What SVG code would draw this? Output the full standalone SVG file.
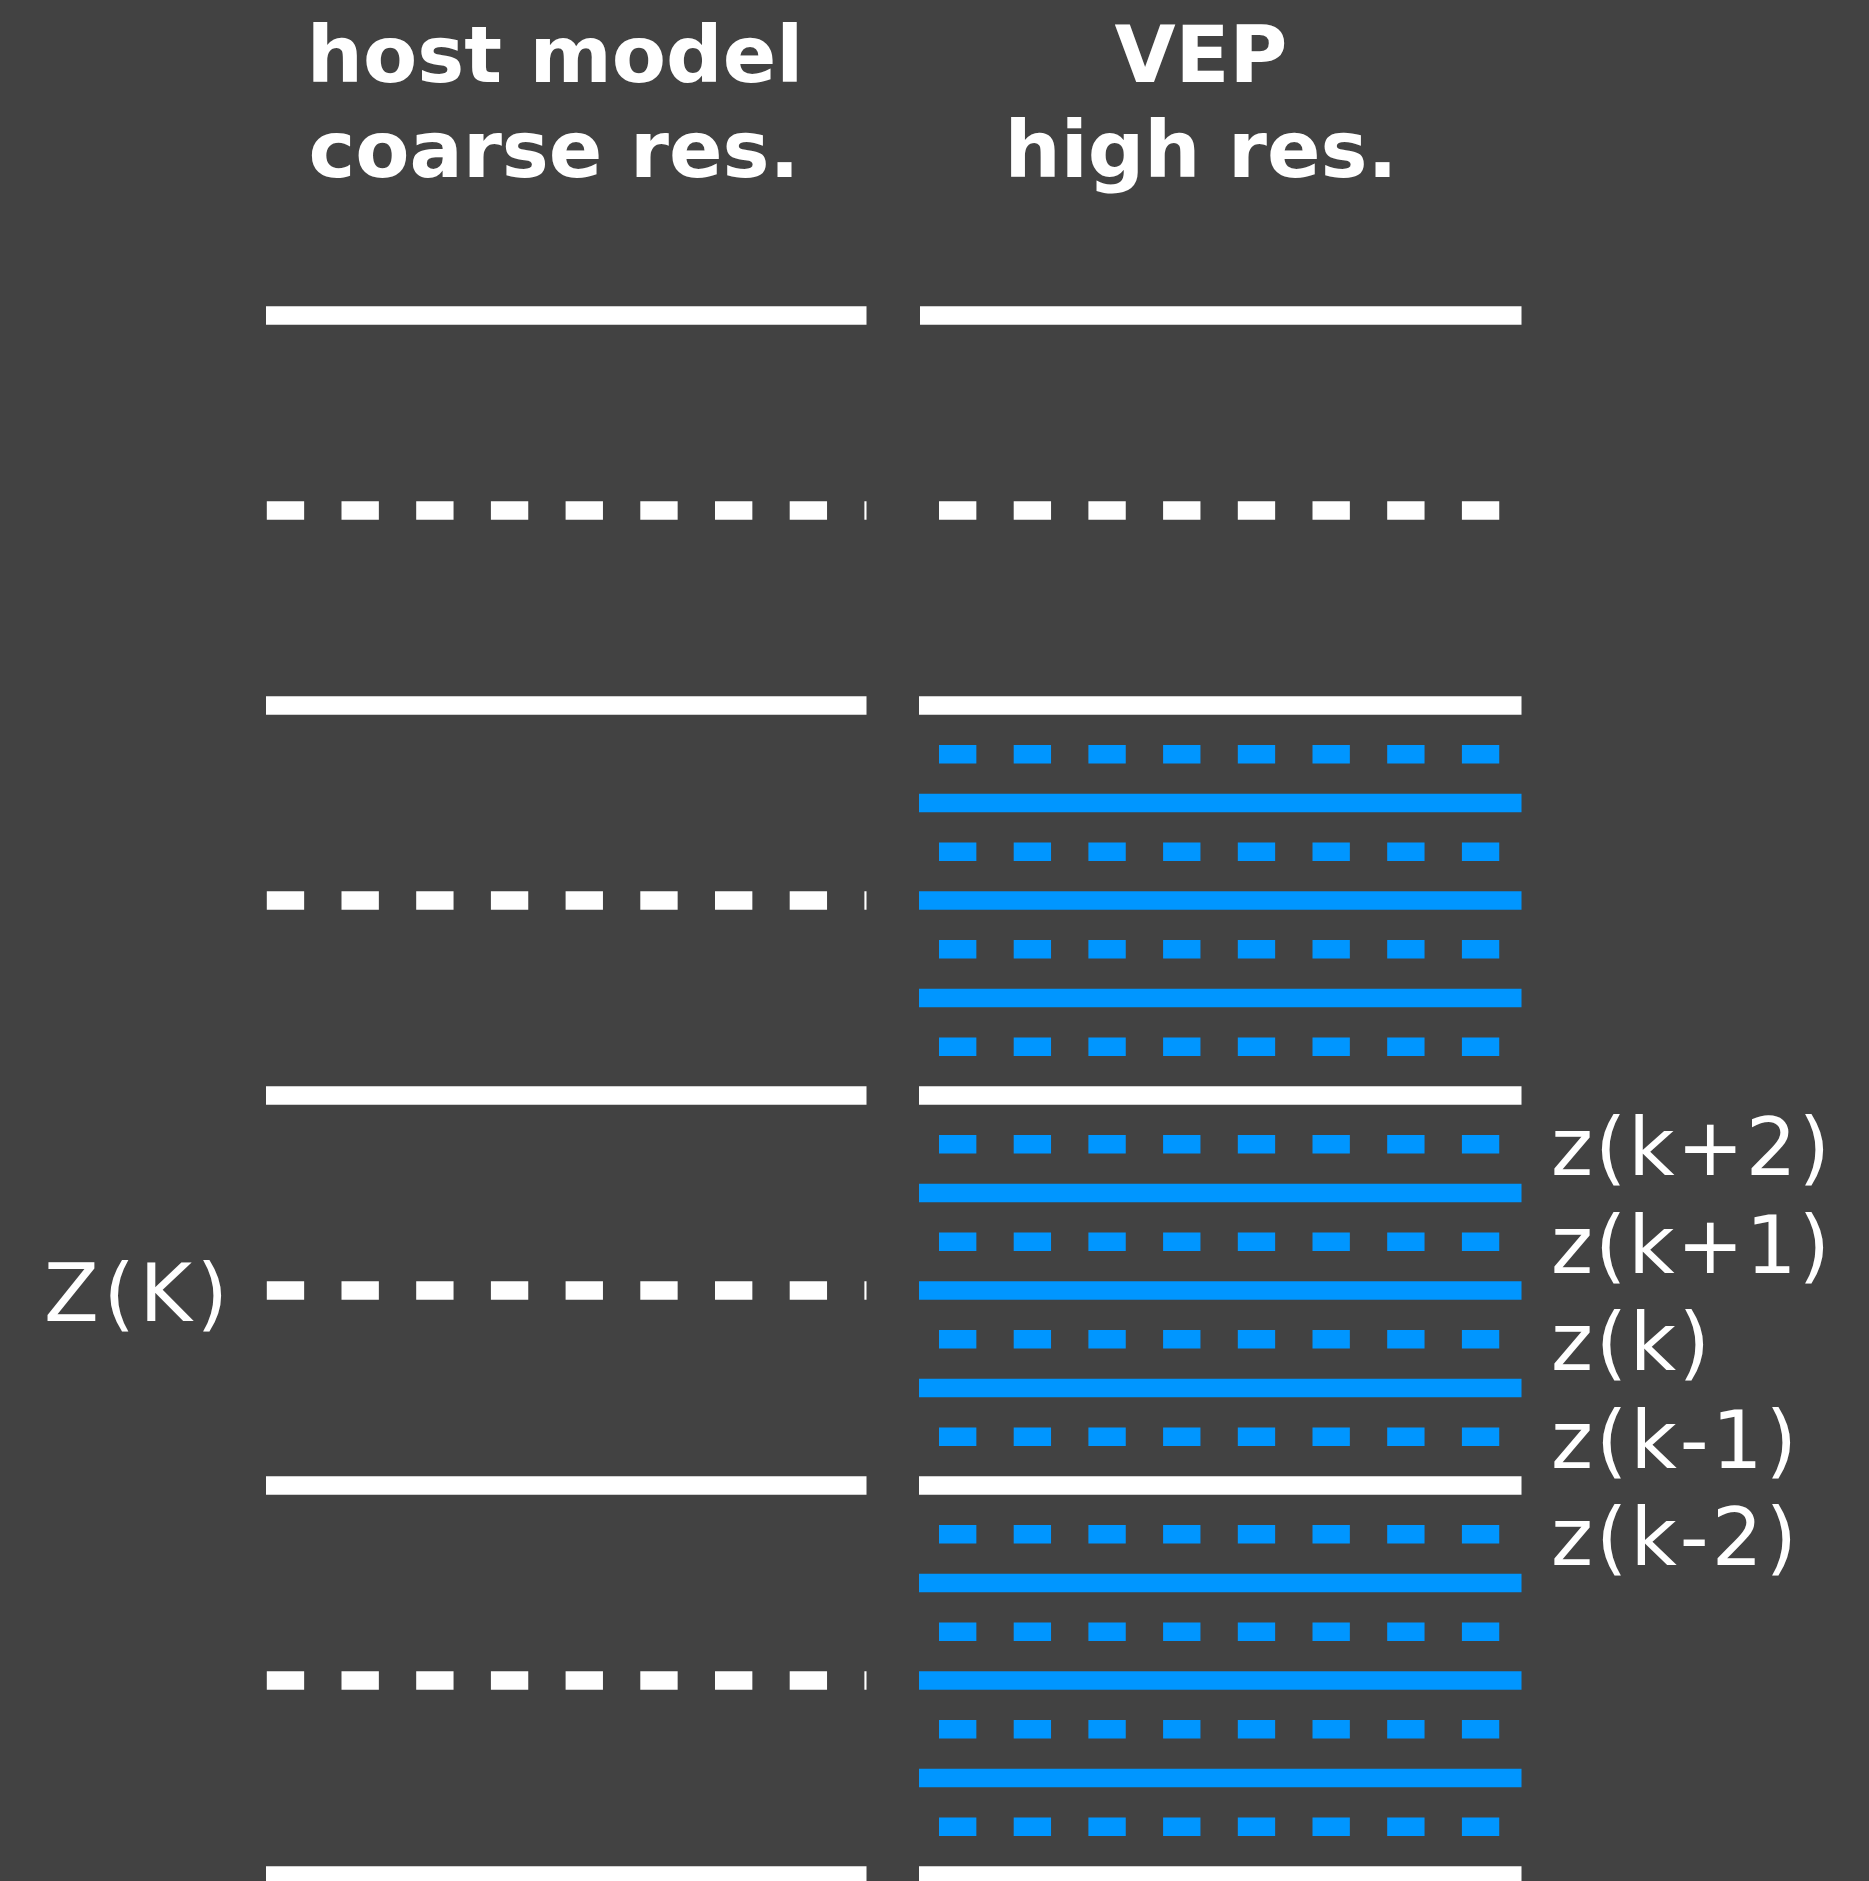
<svg xmlns="http://www.w3.org/2000/svg" width="1869" height="1881" viewBox="0 0 1869 1881">
<style>
.title{font-family:"DejaVu Sans","Liberation Sans",sans-serif;font-weight:bold;font-size:79px;fill:#ffffff;text-anchor:middle}
.lbl{font-family:"DejaVu Sans","Liberation Sans",sans-serif;font-size:80px;fill:#ffffff}
.ws{stroke:#ffffff;stroke-width:18.3;fill:none}
.wd{stroke:#ffffff;stroke-width:18.3;fill:none;stroke-dasharray:37.35 37.35}
.bs{stroke:#0096ff;stroke-width:18.3;fill:none}
.bd{stroke:#0096ff;stroke-width:18.3;fill:none;stroke-dasharray:37.35 37.35}
</style>
<rect x="0" y="0" width="1869" height="1881" fill="#424242"/>
<g id="titles">
<text class="title" x="555" y="82">host model</text>
<text class="title" x="554" y="177">coarse res.</text>
<text class="title" x="1201" y="82">VEP</text>
<text class="title" x="1201" y="177">high res.</text>
</g>
<g id="coarse-levels">
<line class="ws" x1="266" y1="315.5" x2="866.5" y2="315.5"/>
<line class="wd" x1="266.8" y1="510.5" x2="866.5" y2="510.5"/>
<line class="ws" x1="266" y1="705.5" x2="866.5" y2="705.5"/>
<line class="wd" x1="266.8" y1="900.5" x2="866.5" y2="900.5"/>
<line class="ws" x1="266" y1="1095.5" x2="866.5" y2="1095.5"/>
<line class="wd" x1="266.8" y1="1290.5" x2="866.5" y2="1290.5"/>
<line class="ws" x1="266" y1="1485.5" x2="866.5" y2="1485.5"/>
<line class="wd" x1="266.8" y1="1680.5" x2="866.5" y2="1680.5"/>
<line class="ws" x1="266" y1="1875.5" x2="866.5" y2="1875.5"/>
</g>
<g id="vep-coarse-levels">
<line class="ws" x1="920" y1="315.5" x2="1521.5" y2="315.5"/>
<line class="wd" x1="939" y1="510.5" x2="1500" y2="510.5"/>
<line class="ws" x1="919" y1="705.5" x2="1521.5" y2="705.5"/>
<line class="ws" x1="919" y1="1095.5" x2="1521.5" y2="1095.5"/>
<line class="ws" x1="919" y1="1485.5" x2="1521.5" y2="1485.5"/>
<line class="ws" x1="919" y1="1875.5" x2="1521.5" y2="1875.5"/>
</g>
<g id="vep-fine-levels">
<line class="bd" x1="939" y1="754.25" x2="1500" y2="754.25"/>
<line class="bs" x1="919" y1="803" x2="1521.5" y2="803"/>
<line class="bd" x1="939" y1="851.75" x2="1500" y2="851.75"/>
<line class="bs" x1="919" y1="900.5" x2="1521.5" y2="900.5"/>
<line class="bd" x1="939" y1="949.25" x2="1500" y2="949.25"/>
<line class="bs" x1="919" y1="998" x2="1521.5" y2="998"/>
<line class="bd" x1="939" y1="1046.75" x2="1500" y2="1046.75"/>
<line class="bd" x1="939" y1="1144.25" x2="1500" y2="1144.25"/>
<line class="bs" x1="919" y1="1193" x2="1521.5" y2="1193"/>
<line class="bd" x1="939" y1="1241.75" x2="1500" y2="1241.75"/>
<line class="bs" x1="919" y1="1290.5" x2="1521.5" y2="1290.5"/>
<line class="bd" x1="939" y1="1339.25" x2="1500" y2="1339.25"/>
<line class="bs" x1="919" y1="1388" x2="1521.5" y2="1388"/>
<line class="bd" x1="939" y1="1436.75" x2="1500" y2="1436.75"/>
<line class="bd" x1="939" y1="1534.25" x2="1500" y2="1534.25"/>
<line class="bs" x1="919" y1="1583" x2="1521.5" y2="1583"/>
<line class="bd" x1="939" y1="1631.75" x2="1500" y2="1631.75"/>
<line class="bs" x1="919" y1="1680.5" x2="1521.5" y2="1680.5"/>
<line class="bd" x1="939" y1="1729.25" x2="1500" y2="1729.25"/>
<line class="bs" x1="919" y1="1778" x2="1521.5" y2="1778"/>
<line class="bd" x1="939" y1="1826.75" x2="1500" y2="1826.75"/>
</g>
<g id="labels">
<text class="lbl" x="44" y="1321" textLength="184" lengthAdjust="spacing">Z(K)</text>
<text class="lbl" x="1551" y="1175" textLength="279" lengthAdjust="spacing">z(k+2)</text>
<text class="lbl" x="1551" y="1272.5" textLength="279" lengthAdjust="spacing">z(k+1)</text>
<text class="lbl" x="1551" y="1370" textLength="159" lengthAdjust="spacing">z(k)</text>
<text class="lbl" x="1551" y="1467.5" textLength="246" lengthAdjust="spacing">z(k-1)</text>
<text class="lbl" x="1551" y="1565" textLength="246" lengthAdjust="spacing">z(k-2)</text>
</g>
</svg>
